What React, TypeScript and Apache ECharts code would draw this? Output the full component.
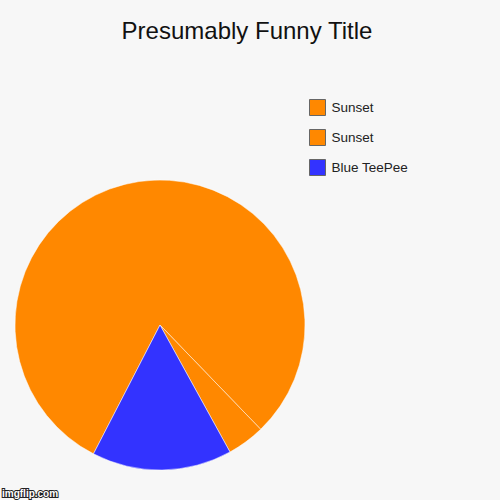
import { useEffect, useRef } from 'react';
import * as echarts from 'echarts';

// Slice data, in clockwise drawing order
const sliceNames = ['Sunset', 'Sunset', 'Blue TeePee'];
const sliceValues = [80.2, 4.2, 15.6];
const sliceColors = ['#ff8800', '#ff8800', '#3333ff'];

const titleText = 'Presumably Funny Title';
const watermarkText = 'imgflip.com';

export default function App() {
  const chartRef = useRef<HTMLDivElement>(null);

  useEffect(() => {
    if (!chartRef.current) return;
    document.body.style.margin = '0';
    const chart = echarts.init(chartRef.current, undefined, { renderer: 'svg' });

    // duplicate names would be merged by the legend, so key them by index
    const keyed = sliceNames.map((n, i) => `${i}:${n}`);

    const option: echarts.EChartsOption = {
      animation: false,
      backgroundColor: '#f7f7f7',
      color: sliceColors,
      textStyle: { fontFamily: 'Arial, "Liberation Sans", sans-serif' },
      graphic: [
        {
          type: 'text',
          x: 247,
          y: 30.5,
          style: {
            text: titleText,
            fill: '#111',
            font: '24px Arial, "Liberation Sans", sans-serif',
            textAlign: 'center',
            textVerticalAlign: 'middle',
          },
        },
        {
          type: 'text',
          x: 2,
          y: 493,
          style: {
            text: watermarkText,
            fill: '#fff',
            stroke: '#222',
            lineWidth: 2,
            font: 'bold 10px Arial, "Liberation Sans", sans-serif',
            textAlign: 'left',
            textVerticalAlign: 'middle',
          },
        },
      ],
      legend: {
        orient: 'vertical',
        left: 309,
        top: 99,
        padding: 0,
        icon: 'rect',
        itemWidth: 16,
        itemHeight: 16,
        itemGap: 13,
        selectedMode: false,
        data: keyed,
        formatter: (name: string) => name.slice(name.indexOf(':') + 1),
        itemStyle: { borderColor: '#666', borderWidth: 1 },
        textStyle: { fontSize: 13.5, color: '#222', padding: [0, 0, 0, 1] },
      },
      series: [
        {
          type: 'pie',
          center: [160, 325],
          radius: 145,
          startAngle: 242.7,
          clockwise: true,
          label: { show: false },
          labelLine: { show: false },
          emphasis: { disabled: true },
          itemStyle: { borderColor: '#ffffff', borderWidth: 0.5 },
          data: keyed.map((k, i) => ({ name: k, value: sliceValues[i] })),
        },
      ],
    };

    chart.setOption(option);

    return () => {
      chart.dispose();
    };
  }, []);

  return <div ref={chartRef} style={{ width: 500, height: 500 }} />;
}
